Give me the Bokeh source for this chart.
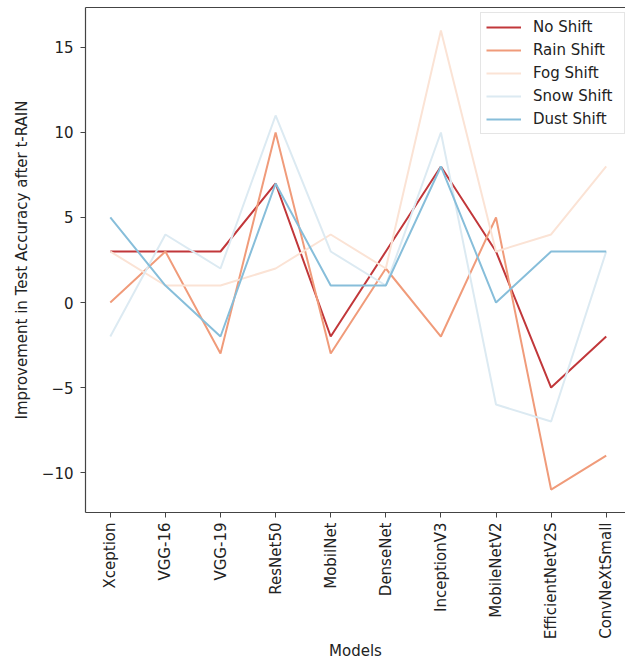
import math
from bokeh.plotting import figure
from bokeh.models import FixedTicker, LinearAxis, Range1d, Legend, LegendItem
from bokeh.embed import file_html
from bokeh.resources import INLINE

models = ["Xception", "VGG-16", "VGG-19", "ResNet50", "MobilNet", "DenseNet",
          "InceptionV3", "MobileNetV2", "EfficientNetV2S", "ConvNeXtSmall"]
no_shift = [3, 3, 3, 7, -2, 3, 8, 3, -5, -2]
rain_shift = [0, 3, -3, 10, -3, 2, -2, 5, -11, -9]
fog_shift = [3, 1, 1, 2, 4, 2, 16, 3, 4, 8]
snow_shift = [-2, 4, 2, 11, 3, 1, 10, -6, -7, 3]
dust_shift = [5, 1, -2, 7, 1, 1, 8, 0, 3, 3]
series_names = ["No Shift", "Rain Shift", "Fog Shift", "Snow Shift", "Dust Shift"]
y_ticks = [-10, -5, 0, 5, 10, 15]

colors = ["#c1373a", "#f09b7a", "#fbe3d5", "#dceaf2", "#87beda"]
FONT = "DejaVu Sans"
TXT = "#222222"
SPINE = "#444444"
FS = "15px"

xs = list(range(len(models)))

p = figure(width=625, height=663, output_backend="svg", toolbar_location=None,
           x_range=Range1d(-0.45, 9.35), y_range=Range1d(-12.35, 17.35),
           min_border_left=85, min_border_right=0, min_border_top=7, min_border_bottom=0)
p.outline_line_color = None
p.xgrid.visible = False
p.ygrid.visible = False

renderers = []
for vals, c in zip([no_shift, rain_shift, fog_shift, snow_shift, dust_shift], colors):
    r = p.line(xs, vals, line_color=c, line_width=2)
    renderers.append(r)

# x axis
xa = p.xaxis[0]
xa.ticker = FixedTicker(ticks=xs)
xa.major_label_overrides = {i: m for i, m in enumerate(models)}
xa.major_label_orientation = math.pi / 2
xa.axis_label = "Models"
# y axis
ya = p.yaxis[0]
ya.ticker = FixedTicker(ticks=y_ticks)
ya.major_label_overrides = {t: (str(t).replace("-", "\u2212")) for t in y_ticks}
ya.axis_label = "Improvement in Test Accuracy after t-RAIN"

for ax in (xa, ya):
    ax.minor_tick_line_color = None
    ax.major_tick_in = 0
    ax.major_tick_out = 5
    ax.major_tick_line_color = SPINE
    ax.axis_line_color = SPINE
    ax.axis_line_width = 1.2
    ax.major_label_text_font = FONT
    ax.major_label_text_font_size = FS
    ax.major_label_text_color = TXT
    ax.axis_label_text_font = FONT
    ax.axis_label_text_font_size = FS
    ax.axis_label_text_font_style = "normal"
    ax.axis_label_text_color = TXT
xa.major_label_standoff = 5
xa.axis_label_standoff = 0
ya.major_label_standoff = 7
ya.axis_label_standoff = 8

# top spine
top = LinearAxis(ticker=FixedTicker(ticks=[]), major_tick_out=0, major_tick_in=0,
                 minor_tick_line_color=None, major_label_standoff=0,
                 axis_line_color=SPINE, axis_line_width=1.2)
p.add_layout(top, "above")

legend = Legend(items=[LegendItem(label=n, renderers=[r]) for n, r in zip(series_names, renderers)],
                location=(395, 378))
legend.label_text_font = FONT
legend.label_text_font_size = FS
legend.label_text_color = TXT
legend.glyph_width = 35
legend.glyph_height = 18
legend.label_height = 18
legend.label_width = 86
legend.label_standoff = 12
legend.spacing = 5
legend.padding = 5
legend.border_line_color = "#cccccc"
legend.border_line_width = 1
legend.background_fill_alpha = 0.8
p.add_layout(legend, "center")

open("out.html", "w").write(file_html(p, INLINE))
